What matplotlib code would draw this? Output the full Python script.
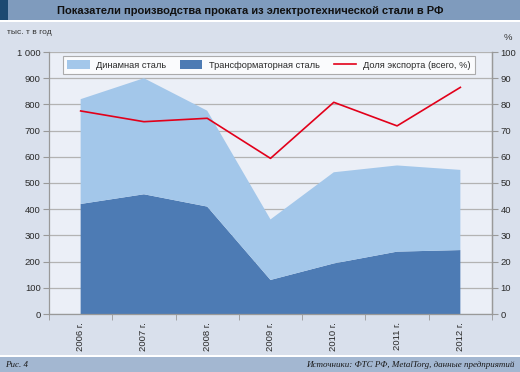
import matplotlib
matplotlib.use("Agg")
import matplotlib.pyplot as plt
from matplotlib.patches import Rectangle, Patch
from matplotlib.lines import Line2D
import numpy as np

years = ["2006 г.", "2007 г.", "2008 г.", "2009 г.", "2010 г.", "2011 г.", "2012 г."]
transformer = [420, 457, 410, 130, 193, 238, 244]
dynamic = [400, 443, 366, 231, 348, 329, 306]
export_share = [77.5, 73.4, 74.7, 59.4, 80.8, 71.8, 86.5]
left_ticks = [0, 100, 200, 300, 400, 500, 600, 700, 800, 900, 1000]
left_labels = ["0", "100", "200", "300", "400", "500", "600", "700", "800", "900", "1 000"]
right_ticks = [0, 10, 20, 30, 40, 50, 60, 70, 80, 90, 100]

plt.rcParams['font.family'] = ['Liberation Sans', 'DejaVu Sans']

W, H = 520, 372
fig = plt.figure(figsize=(W/100, H/100), dpi=100)
fig.patch.set_facecolor('#d9e0ec')

def fx(px): return px / W
def fy(py): return 1 - py / H

# title bar
fig.patches.append(Rectangle((0, fy(20)), 1, 20/H, transform=fig.transFigure,
                             facecolor='#7f9bbd', edgecolor='none', zorder=0))
fig.patches.append(Rectangle((0, fy(20)), 8/W, 20/H, transform=fig.transFigure,
                             facecolor='#1d4a72', edgecolor='none', zorder=1))
fig.patches.append(Rectangle((0, fy(22)), 1, 2/H, transform=fig.transFigure,
                             facecolor='white', edgecolor='none', zorder=1))
# bottom bar
fig.patches.append(Rectangle((0, 0), 1, 15/H, transform=fig.transFigure,
                             facecolor='#a3b7d1', edgecolor='none', zorder=0))
fig.patches.append(Rectangle((0, 15/H), 1, 2/H, transform=fig.transFigure,
                             facecolor='white', edgecolor='none', zorder=1))

fig.text(fx(250), fy(10.5), "Показатели производства проката из электротехнической стали в РФ",
         ha='center', va='center', fontsize=8.0, fontweight='bold', color='#111111')
fig.text(fx(7), fy(33), "тыс. т в год", ha='left', va='center', fontsize=6.0, color='#333333')
fig.text(fx(508), fy(38), "%", ha='center', va='center', fontsize=6.8, color='#333333')
fig.text(fx(5), fy(365), "Рис. 4", ha='left', va='center', fontsize=6.5,
         family=['Liberation Serif'], style='italic', color='#1a1a1a')
fig.text(fx(514), fy(365), "Источники: ФТС РФ, MetalTorg, данные предприятий", ha='right',
         va='center', fontsize=6.5, family=['Liberation Serif'], style='italic', color='#1a1a1a')

ax = fig.add_axes([fx(49), fy(314), (492-49)/W, (314-52)/H])
ax.set_facecolor('#ebeff7')
x = np.arange(len(years))
ax.stackplot(x, transformer, dynamic, colors=['#4d7bb4', '#a3c7ea'], zorder=2, linewidth=0)
ax.set_xlim(-0.5, len(years) - 0.5)
ax.set_ylim(0, 1000)
ax.set_yticks(left_ticks)
ax.set_yticklabels(left_labels)
ax.yaxis.grid(True, color='#b3b3b3', linewidth=0.9, zorder=1)
ax.set_axisbelow(True)
ax.set_xticks(x)
ax.set_xticklabels(years, rotation=90)
ax.set_xticks(np.arange(-0.5, len(years)), minor=True)
ax.tick_params(axis='x', which='major', length=0, pad=6, labelsize=6.8, colors='#2a2a2a')
ax.tick_params(axis='x', which='minor', length=4, color='#999999', direction='out')
ax.tick_params(axis='y', length=4, color='#999999', labelsize=6.8, labelcolor='#2a2a2a', pad=2)
ax.spines['top'].set_visible(False)
for s in ['left', 'bottom', 'right']:
    ax.spines[s].set_color('#999999')
    ax.spines[s].set_linewidth(0.9)

ax2 = ax.twinx()
ax2.plot(x, export_share, color='#e2001a', linewidth=1.2, zorder=3)
ax2.set_ylim(0, 100)
ax2.set_yticks(right_ticks)
ax2.tick_params(axis='y', length=4, color='#999999', labelsize=6.8, labelcolor='#2a2a2a', pad=2)
for s in ['top', 'left', 'bottom']:
    ax2.spines[s].set_visible(False)
ax2.spines['right'].set_color('#999999')
ax2.spines['right'].set_linewidth(0.9)

handles = [Patch(facecolor='#a3c7ea', edgecolor='none'),
           Patch(facecolor='#4d7bb4', edgecolor='none'),
           Line2D([0], [0], color='#e2001a', linewidth=1.2)]
labels = ["Динамная сталь", "Трансформаторная сталь", "Доля экспорта (всего, %)"]
x0 = (63-49)/443
ytop = (314-56)/262
leg = ax2.legend(handles, labels, loc='upper left', ncol=3,
                 bbox_to_anchor=(x0, ytop),
                 fontsize=6.7, frameon=True, fancybox=False, borderaxespad=0,
                 handlelength=2.4, handleheight=1.0, handletextpad=0.75,
                 columnspacing=1.45, borderpad=0.45)
leg.get_frame().set_edgecolor('#999999')
leg.get_frame().set_linewidth(0.8)
leg.get_frame().set_facecolor('white')
for t in leg.get_texts():
    t.set_color('#2a2a2a')

fig.savefig("out.png", dpi=100, facecolor=fig.get_facecolor())
